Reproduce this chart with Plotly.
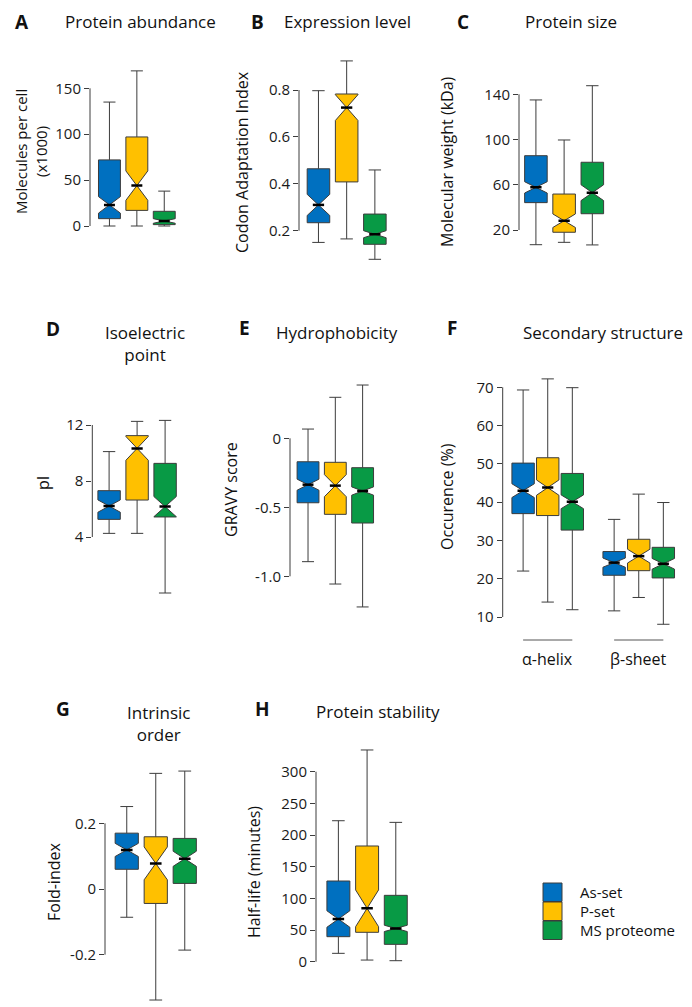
import plotly.graph_objects as go

# the page body adds an 8px margin, so the figure is drawn 8px in from the window corner
OFF = 8
W, H = 692 - OFF, 1007 - OFF

groups = ["As-set", "P-set", "MS proteome"]
colors = ["#0070C0", "#FFC000", "#089A45"]

# box statistics per panel, one entry per group (As-set, P-set, MS proteome)
abundance = dict(lo=[0, 0, 0], q1=[8, 17, 1.5], med=[23, 44, 5.5], q3=[72, 97, 16],
                 hi=[135, 169, 38], notch=[9, 16, 2.5])
expression = dict(lo=[0.15, 0.165, 0.078], q1=[0.234, 0.408, 0.142], med=[0.31, 0.725, 0.185],
                  q3=[0.464, 0.783, 0.271], hi=[0.797, 0.924, 0.459], notch=[0.045, 0.055, 0.015])
size = dict(lo=[7, 9.1, 6.8], q1=[44.2, 18, 34.4], med=[57.7, 28.2, 53], q3=[85.7, 51.8, 79.9],
            hi=[135, 99.6, 147.6], notch=[5, 6, 7])
isoelectric = dict(lo=[4.26, 4.26, 0.0], q1=[5.26, 6.64, 5.43], med=[6.21, 10.33, 6.17],
                   q3=[7.31, 11.24, 9.26], hi=[10.1, 12.26, 12.33], notch=[0.44, 0.85, 0.72])
gravy = dict(lo=[-0.894, -1.056, -1.222], q1=[-0.467, -0.551, -0.614], med=[-0.336, -0.343, -0.382],
             q3=[-0.17, -0.174, -0.213], hi=[0.067, 0.297, 0.386], notch=[0.04, 0.08, 0.03])
helix = dict(lo=[22.0, 13.9, 11.9], q1=[37.0, 36.5, 32.7], med=[43.0, 43.8, 40.1],
             q3=[50.2, 51.6, 47.5], hi=[69.3, 72.2, 69.9], notch=[1.8, 2.0, 1.8])
sheet = dict(lo=[11.6, 15.1, 8.1], q1=[20.9, 22.1, 20.2], med=[24.2, 25.9, 23.9],
             q3=[27.1, 30.3, 28.2], hi=[35.5, 42.1, 39.9], notch=[1.2, 1.8, 1.4])
fold = dict(lo=[-0.086, -0.338, -0.186], q1=[0.06, -0.044, 0.017], med=[0.119, 0.078, 0.092],
            q3=[0.17, 0.159, 0.154], hi=[0.251, 0.352, 0.359], notch=[0.02, 0.05, 0.023])
halflife = dict(lo=[13.2, 2.6, 1.6], q1=[39.5, 46.4, 27.4], med=[67.4, 84.3, 52.6],
                q3=[127.4, 182.7, 104.8], hi=[222.6, 334.3, 220], notch=[13, 29, 5])

abundance_ticks = [0, 50, 100, 150]
expression_ticks = [0.2, 0.4, 0.6, 0.8]
size_ticks = [20, 60, 100, 140]
isoelectric_ticks = [4, 8, 12]
gravy_ticks = [-1.0, -0.5, 0]
gravy_ticktext = ["-1.0", "-0.5", "0"]
structure_ticks = [10, 20, 30, 40, 50, 60, 70]
fold_ticks = [-0.2, 0, 0.2]
fold_ticktext = ["-0.2", "0", "0.2"]
halflife_ticks = [0, 50, 100, 150, 200, 250, 300]
structure_labels = ["α-helix", "β-sheet"]

FONT = "Open Sans"
LINE = "#3c3c3c"

panels = [
    dict(letter="A", title="Protein abundance", ylabel="Molecules per cell<br>(x1000)",
         sets=[(abundance, 0)], ticks=abundance_ticks, ticktext=None,
         ax=90, sp=27.4, xr=[-0.71, 2.75], top=55, bot=236, ref=(150, 88.3, 0, 226),
         letter_xy=(22, 22), title_xy=(140, 21), ylabel_xy=(31, 152), bw=0.8),
    dict(letter="B", title="Expression level", ylabel="Codon Adaptation Index",
         sets=[(expression, 0)], ticks=expression_ticks, ticktext=None,
         ax=299, sp=28.2, xr=[-0.69, 2.75], top=50, bot=265, ref=(0.8, 90, 0.2, 230.7),
         letter_xy=(257, 22), title_xy=(347, 21), ylabel_xy=(242, 162), bw=0.8),
    dict(letter="C", title="Protein size", ylabel="Molecular weight (kDa)",
         sets=[(size, 0)], ticks=size_ticks, ticktext=None,
         ax=519, sp=28.2, xr=[-0.6, 2.75], top=75, bot=250, ref=(140, 94.3, 20, 230),
         letter_xy=(463, 22), title_xy=(571, 21), ylabel_xy=(447, 162), bw=0.8),
    dict(letter="D", title="Isoelectric<br>point", ylabel="pI",
         sets=[(isoelectric, 0)], ticks=isoelectric_ticks, ticktext=None,
         ax=92.3, sp=28, xr=[-0.6, 2.75], top=405, bot=600, ref=(12, 425, 4, 537),
         letter_xy=(53, 329), title_xy=(145, 344), ylabel_xy=(43, 483), bw=0.8),
    dict(letter="E", title="Hydrophobicity", ylabel="GRAVY score",
         sets=[(gravy, 0)], ticks=gravy_ticks, ticktext=gravy_ticktext,
         ax=290, sp=27.3, xr=[-0.66, 2.75], top=375, bot=615, ref=(0, 438.3, -1.0, 576.3),
         letter_xy=(244, 328), title_xy=(337, 332), ylabel_xy=(231, 490), bw=0.8),
    dict(letter="F", title="Secondary structure", ylabel="Occurence (%)",
         sets=[(helix, 0), (sheet, 3.7)], ticks=structure_ticks, ticktext=None,
         ax=502.7, sp=24.6, xr=[-0.83, 6.6], top=365, bot=630, ref=(70, 387.3, 10, 617),
         letter_xy=(452, 328), title_xy=(603, 332), ylabel_xy=(447, 497), bw=0.91),
    dict(letter="G", title="Intrinsic<br>order", ylabel="Fold-index",
         sets=[(fold, 0)], ticks=fold_ticks, ticktext=fold_ticktext,
         ax=105, sp=29, xr=[-0.75, 2.75], top=755, bot=1005, ref=(0.2, 823.3, -0.2, 954.7),
         letter_xy=(63, 709), title_xy=(158, 723), ylabel_xy=(54, 882), bw=0.8),
    dict(letter="H", title="Protein stability", ylabel="Half-life (minutes)",
         sets=[(halflife, 0)], ticks=halflife_ticks, ticktext=None,
         ax=316, sp=28.7, xr=[-0.78, 2.75], top=735, bot=970, ref=(300, 771.7, 0, 961.7),
         letter_xy=(262, 709), title_xy=(378, 711), ylabel_xy=(254, 872), bw=0.8),
]


def fx(px):
    return (px - OFF) / W


def fy(py):
    return 1 - (py - OFF) / H


fig = go.Figure()
layout = {}
shapes = []
annotations = []


def ann(text, x, y, size, bold=False, angle=0, xanchor="center"):
    annotations.append(dict(
        text=f"<b>{text}</b>" if bold else text, x=fx(x), y=fy(y), xref="paper", yref="paper",
        xanchor=xanchor, yanchor="middle", showarrow=False, textangle=angle,
        font=dict(family=FONT, size=size, color="#111"),
    ))


for i, p in enumerate(panels, 1):
    suffix = "" if i == 1 else str(i)
    xa, ya = f"x{suffix}", f"y{suffix}"
    v_a, px_a, v_b, px_b = p["ref"]
    scale = (px_b - px_a) / (v_a - v_b)
    y_top = v_a + (px_a - p["top"]) / scale
    y_bot = v_b - (p["bot"] - px_b) / scale
    x_right = p["ax"] + (p["xr"][1] - p["xr"][0]) * p["sp"]

    layout[f"xaxis{suffix}"] = dict(domain=[fx(p["ax"]), min(fx(x_right), 1)], range=p["xr"],
                                    visible=False, anchor=ya, fixedrange=True)
    layout[f"yaxis{suffix}"] = dict(
        domain=[fy(p["bot"]), fy(p["top"])], range=[y_bot, y_top], anchor=xa,
        tickvals=p["ticks"], ticktext=p["ticktext"], ticks="outside", ticklen=5,
        tickcolor=LINE, tickwidth=1, showline=False, showgrid=False, zeroline=False,
        tickfont=dict(family=FONT, size=15, color="#1a1a1a"),
    )

    bw = p["bw"]
    for stats, offset in p["sets"]:
        for g, color in enumerate(colors):
            pos = offset + g
            fig.add_trace(go.Box(
                x=[pos], q1=[stats["q1"][g]], median=[stats["med"][g]], q3=[stats["q3"][g]],
                lowerfence=[stats["lo"][g]], upperfence=[stats["hi"][g]],
                notchspan=[stats["notch"][g]], notched=True, notchwidth=0.5,
                width=bw, whiskerwidth=0.55, fillcolor=color,
                line=dict(color=LINE, width=1), boxpoints=False,
                name=groups[g], showlegend=False, xaxis=xa, yaxis=ya, hoverinfo="skip",
            ))
            fig.add_trace(go.Scatter(
                x=[pos - bw / 4, pos + bw / 4], y=[stats["med"][g]] * 2, mode="lines",
                line=dict(color="black", width=2.5), showlegend=False,
                xaxis=xa, yaxis=ya, hoverinfo="skip",
            ))

    # y axis line spans only the tick range
    shapes.append(dict(type="line", xref=f"{xa} domain", yref=ya, x0=0, x1=0,
                       y0=min(p["ticks"]), y1=max(p["ticks"]), line=dict(color=LINE, width=1)))

    ann(p["letter"], *p["letter_xy"], 19, bold=True)
    ann(p["title"], *p["title_xy"], 17)
    ann(p["ylabel"], *p["ylabel_xy"], 15 if p["letter"] == "A" else 16, angle=-90)

    if p["letter"] == "F":
        for (stats, offset), label in zip(p["sets"], structure_labels):
            shapes.append(dict(type="line", xref=xa, yref="paper", x0=offset, x1=offset + 2,
                               y0=fy(640), y1=fy(640), line=dict(color="#555", width=1)))
            annotations.append(dict(
                text=label, x=offset + 1, y=fy(659), xref=xa, yref="paper",
                xanchor="center", yanchor="middle", showarrow=False,
                font=dict(family=FONT, size=16, color="#111"),
            ))

# legend drawn as stacked swatches
for g, (name, color) in enumerate(zip(groups, colors)):
    y0 = 883 + g * 19
    shapes.append(dict(type="rect", xref="paper", yref="paper", x0=fx(543), x1=fx(562),
                       y0=fy(y0 + 18.5), y1=fy(y0), fillcolor=color,
                       line=dict(color=LINE, width=1)))
    ann(name, 578, y0 + 9, 15, xanchor="left")

fig.update_layout(
    width=W, height=H, margin=dict(l=0, r=0, t=0, b=0),
    paper_bgcolor="white", plot_bgcolor="white", showlegend=False,
    font=dict(family=FONT), shapes=shapes, annotations=annotations, **layout,
)

fig.write_html("out.html")
